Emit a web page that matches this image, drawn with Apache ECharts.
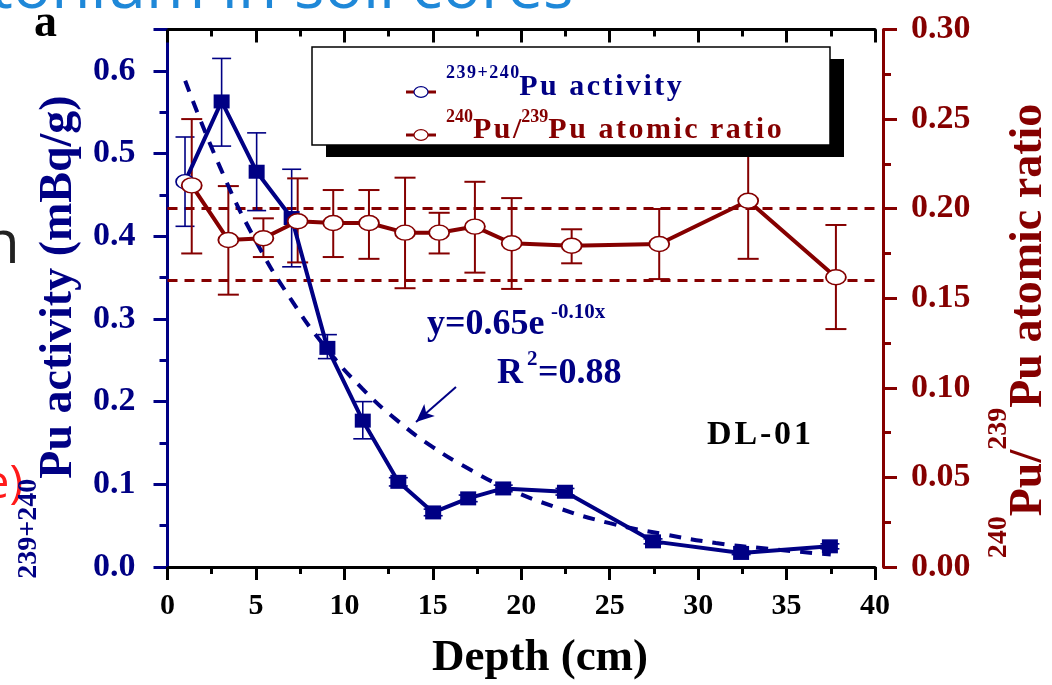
<!DOCTYPE html>
<html>
<head>
<meta charset="utf-8">
<title>DL-01 Pu activity and atomic ratio</title>
<script src="https://cdn.jsdelivr.net/npm/echarts@6/dist/echarts.min.js"></script>
<style>
  html, body { margin: 0; padding: 0; background: #fff; }
  #chart { width: 1052px; height: 685px; }
</style>
</head>
<body>
<div id="chart"></div>
<script>
  // 239+240Pu activity (mBq/g) against depth (cm)
  var actDepth = [0.99, 3.06, 5.04, 7.02, 9.04, 11.04, 13.05, 15.02, 17.0, 18.98, 22.47, 27.45, 32.43, 37.45];
  var activity = [0.466, 0.563, 0.478, 0.422, 0.265, 0.177, 0.103, 0.066, 0.083, 0.095, 0.091, 0.031, 0.017, 0.025];
  var actLow   = [0.412, 0.509, 0.431, 0.363, 0.252, 0.155, 0.098, 0.062, 0.079, 0.091, 0.087, 0.028, 0.015, 0.022];
  var actHigh  = [0.520, 0.615, 0.525, 0.481, 0.281, 0.200, 0.108, 0.070, 0.087, 0.099, 0.095, 0.034, 0.019, 0.028];

  // 240Pu/239Pu atomic ratio
  var ratioDepth = [1.37, 3.44, 5.42, 7.36, 9.37, 11.39, 13.43, 15.36, 17.38, 19.46, 22.85, 27.8, 32.83, 37.79];
  var ratio     = [0.213, 0.1825, 0.1835, 0.193, 0.192, 0.192, 0.1866, 0.1866, 0.190, 0.1807, 0.1793, 0.1803, 0.2044, 0.1617];
  var ratioLow  = [0.175, 0.152, 0.173, 0.170, 0.173, 0.172, 0.1556, 0.175, 0.1643, 0.1552, 0.1695, 0.1607, 0.172, 0.1328];
  var ratioHigh = [0.250, 0.2126, 0.1946, 0.2169, 0.2104, 0.2104, 0.2173, 0.1977, 0.215, 0.2059, 0.1885, 0.1998, 0.237, 0.1909];

  // exponential fit curve
  var fitDepth = [1.0, 3, 5, 7, 9, 11, 13, 15, 17, 19, 22, 25, 28, 31, 34, 37.5];
  var fitValue = [0.588, 0.482, 0.394, 0.323, 0.264, 0.216, 0.177, 0.145, 0.119, 0.097, 0.072, 0.053, 0.040, 0.029, 0.022, 0.015];

  // global fallout ratio band (dashed lines)
  var bandLines = [0.20, 0.157];

  var navy = '#000084';
  var brown = '#850000';
  var serif = '"Liberation Serif", "Times New Roman", serif';

  var chart = echarts.init(document.getElementById('chart'));

  function errBars(capW, color, lw) {
    return function (params, api) {
      var x = api.value(0);
      var top = api.coord([x, api.value(2)]);
      var bot = api.coord([x, api.value(1)]);
      var st = { stroke: color, lineWidth: lw };
      return {
        type: 'group',
        children: [
          { type: 'line', shape: { x1: top[0], y1: top[1], x2: bot[0], y2: bot[1] }, style: st },
          { type: 'line', shape: { x1: top[0] - capW / 2, y1: top[1], x2: top[0] + capW / 2, y2: top[1] }, style: st },
          { type: 'line', shape: { x1: bot[0] - capW / 2, y1: bot[1], x2: bot[0] + capW / 2, y2: bot[1] }, style: st }
        ]
      };
    };
  }

  var actData = actDepth.map(function (d, i) {
    if (i === 0) {
      return { value: [d, activity[i]], symbol: 'circle', symbolSize: [18, 14],
        itemStyle: { color: '#fff', borderColor: navy, borderWidth: 1.5 } };
    }
    return [d, activity[i]];
  });
  var actErr = actDepth.map(function (d, i) { return [d, actLow[i], actHigh[i]]; });
  var ratioData = ratioDepth.map(function (d, i) { return [d, ratio[i]]; });
  var ratioErr = ratioDepth.map(function (d, i) { return [d, ratioLow[i], ratioHigh[i]]; });
  var fitData = fitDepth.map(function (d, i) { return [d, fitValue[i]]; });

  function hair(s) { return s.split('').join('\u200a'); }

  // plain text placed by its baseline
  function txt(x, base, s, size, color, fam) {
    return {
      type: 'text', x: x, y: base - 0.34 * size, z: 50,
      style: { text: s, font: 'bold ' + size + 'px ' + (fam || serif), fill: color, align: 'left', verticalAlign: 'middle' }
    };
  }

  var option = {
    animation: false,
    backgroundColor: '#fff',
    grid: { left: 167.5, right: 177, top: 29.5, bottom: 118 },
    xAxis: [{
      type: 'value', position: 'bottom', min: 0, max: 40, interval: 5,
      axisLine: { onZero: false, lineStyle: { color: '#000', width: 3 } },
      axisTick: { length: 13, lineStyle: { color: '#000', width: 3 } },
      minorTick: { show: true, splitNumber: 2, length: 7, lineStyle: { color: '#000', width: 3 } },
      axisLabel: { color: '#000', fontFamily: serif, fontWeight: 'bold', fontSize: 30, margin: 24 },
      splitLine: { show: false }
    }, {
      type: 'value', position: 'top', min: 0, max: 40, interval: 5,
      axisLine: { onZero: false, lineStyle: { color: '#000', width: 3 } },
      axisTick: { inside: true, length: 13, lineStyle: { color: '#000', width: 3 } },
      minorTick: { show: true, splitNumber: 2, length: 7, lineStyle: { color: '#000', width: 3 } },
      axisLabel: { show: false },
      splitLine: { show: false }
    }],
    yAxis: [{
      type: 'value', position: 'left', min: 0, max: 0.65, interval: 0.1,
      axisLine: { show: true, onZero: false, lineStyle: { color: navy, width: 3 } },
      axisTick: { length: 14, lineStyle: { color: navy, width: 3 } },
      minorTick: { show: true, splitNumber: 2, length: 8, lineStyle: { color: navy, width: 3 } },
      axisLabel: {
        color: navy, fontFamily: serif, fontWeight: 'bold', fontSize: 34, margin: 32,
        formatter: function (v) { return v > 0.61 ? '' : v.toFixed(1); }
      },
      splitLine: { show: false }
    }, {
      type: 'value', position: 'right', offset: 8, min: 0, max: 0.3, interval: 0.05,
      axisLine: { show: true, onZero: false, lineStyle: { color: brown, width: 3 } },
      axisTick: { length: 14, lineStyle: { color: brown, width: 3 } },
      minorTick: { show: true, splitNumber: 2, length: 8, lineStyle: { color: brown, width: 3 } },
      axisLabel: {
        color: brown, fontFamily: serif, fontWeight: 'bold', fontSize: 34, margin: 28,
        formatter: function (v) { return v.toFixed(2); }
      },
      splitLine: { show: false }
    }],
    series: [{
      name: 'activity error', type: 'custom', xAxisIndex: 0, yAxisIndex: 0, z: 2,
      renderItem: errBars(19, navy, 1.6), data: actErr
    }, {
      name: 'ratio error', type: 'custom', xAxisIndex: 0, yAxisIndex: 1, z: 2,
      renderItem: errBars(21, brown, 2), data: ratioErr
    }, {
      name: 'fit', type: 'line', xAxisIndex: 0, yAxisIndex: 0, z: 3,
      smooth: true, showSymbol: false, data: fitData,
      lineStyle: { color: navy, width: 4, type: [12, 10] },
      markLine: {
        silent: true, symbol: ['none', 'arrow'], symbolSize: [12, 18],
        label: { show: false },
        lineStyle: { color: navy, width: 2, type: 'solid' },
        data: [[{ coord: [16.31, 0.2177] }, { coord: [14.05, 0.1754] }]]
      }
    }, {
      name: '239+240Pu activity', type: 'line', xAxisIndex: 0, yAxisIndex: 0, z: 4,
      data: actData, symbol: 'rect', symbolSize: [16, 14],
      itemStyle: { color: navy },
      lineStyle: { color: navy, width: 4 }
    }, {
      name: '240Pu/239Pu atomic ratio', type: 'line', xAxisIndex: 0, yAxisIndex: 1, z: 5,
      data: ratioData, symbol: 'circle', symbolSize: [20, 15],
      itemStyle: { color: '#fff', borderColor: brown, borderWidth: 1.6 },
      lineStyle: { color: brown, width: 4 },
      markLine: {
        silent: true, symbol: 'none', label: { show: false }, z: 1,
        lineStyle: { color: brown, width: 2.8, type: [10, 7] },
        data: bandLines.map(function (v) { return { yAxis: v }; })
      }
    }],
    graphic: [
      // legend box with its offset shadow
      { type: 'rect', z: 40, shape: { x: 326, y: 59, width: 518, height: 98 }, style: { fill: '#000' } },
      { type: 'rect', z: 41, shape: { x: 312, y: 47, width: 518, height: 98 }, style: { fill: '#fff', stroke: '#000', lineWidth: 1.5 } },
      { type: 'line', z: 42, shape: { x1: 406, y1: 92, x2: 436, y2: 92 }, style: { stroke: brown, lineWidth: 3 } },
      { type: 'ellipse', z: 43, shape: { cx: 421, cy: 92, rx: 7, ry: 5.3 }, style: { fill: '#fff', stroke: navy, lineWidth: 1.2 } },
      { type: 'line', z: 42, shape: { x1: 406, y1: 135, x2: 436, y2: 135 }, style: { stroke: brown, lineWidth: 3 } },
      { type: 'ellipse', z: 43, shape: { cx: 421, cy: 135, rx: 7, ry: 5.3 }, style: { fill: '#fff', stroke: brown, lineWidth: 1.2 } },
      {
        type: 'text', z: 44, x: 446, y: 87,
        style: {
          text: '{s|' + hair('239+240') + '}{m|' + hair('Pu activity') + '}',
          align: 'left', verticalAlign: 'middle',
          rich: {
            s: { font: 'bold 18px ' + serif, fill: navy, lineHeight: 18, verticalAlign: 'top' },
            m: { font: 'bold 30px ' + serif, fill: navy, lineHeight: 45 }
          }
        }
      },
      {
        type: 'text', z: 44, x: 446, y: 130.5,
        style: {
          text: '{s|240}{m|' + hair('Pu/') + '}{s|239}{m|' + hair('Pu atomic ratio') + '}',
          align: 'left', verticalAlign: 'middle',
          rich: {
            s: { font: 'bold 18px ' + serif, fill: brown, lineHeight: 18, verticalAlign: 'top' },
            m: { font: 'bold 30px ' + serif, fill: brown, lineHeight: 45 }
          }
        }
      },
      // axis titles
      {
        type: 'text', z: 30, x: 59, y: 337, rotation: Math.PI / 2,
        style: {
          text: '{s|239+240}{m|Pu activity (mBq/g)}',
          align: 'center', verticalAlign: 'middle',
          rich: {
            s: { font: 'bold 28px ' + serif, fill: navy, lineHeight: 28, verticalAlign: 'top' },
            m: { font: 'bold 46px ' + serif, fill: navy, lineHeight: 88 }
          }
        }
      },
      {
        type: 'text', z: 30, x: 1029, y: 331, rotation: Math.PI / 2,
        style: {
          text: '{s|240}{m|Pu/}{s|239}{m|Pu atomic ratio}',
          align: 'center', verticalAlign: 'middle',
          rich: {
            s: { font: 'bold 28px ' + serif, fill: brown, lineHeight: 28, verticalAlign: 'top' },
            m: { font: 'bold 46px ' + serif, fill: brown, lineHeight: 88 }
          }
        }
      },
      {
        type: 'text', z: 30, x: 540, y: 673 - 0.34 * 44,
        style: { text: 'Depth (cm)', font: 'bold 45px ' + serif, fill: '#000', align: 'center', verticalAlign: 'middle' }
      },
      // fit annotation and core label
      txt(427, 337, 'y=0.65e', 36, navy),
      txt(551, 320, '-0.10x', 21, navy),
      txt(497, 386, 'R', 36, navy),
      txt(527, 367, '2', 21, navy),
      txt(538, 386, '=0.88', 36, navy),
      txt(707, 447, hair('DL-01'), 34, '#000'),
      // panel letter and the page text cut off around the figure
      txt(34, 40, 'a', 46, '#000'),
      {
        type: 'text', x: -10, y: 22, z: 1,
        style: { text: 'tonium in soil cores', font: '64px "Open Sans", sans-serif', fill: '#1f88d8', align: 'left', verticalAlign: 'bottom' }
      },
      {
        type: 'text', x: -17, y: 276, z: 1,
        style: { text: 'h', font: '60px "Open Sans", sans-serif', fill: '#222', align: 'left', verticalAlign: 'bottom' }
      },
      {
        type: 'text', x: 23, y: 508, z: 1,
        style: { text: 'e)', font: '46px "Open Sans", sans-serif', fill: '#ff1a1a', align: 'right', verticalAlign: 'bottom' }
      }
    ]
  };

  chart.setOption(option);
</script>
</body>
</html>
